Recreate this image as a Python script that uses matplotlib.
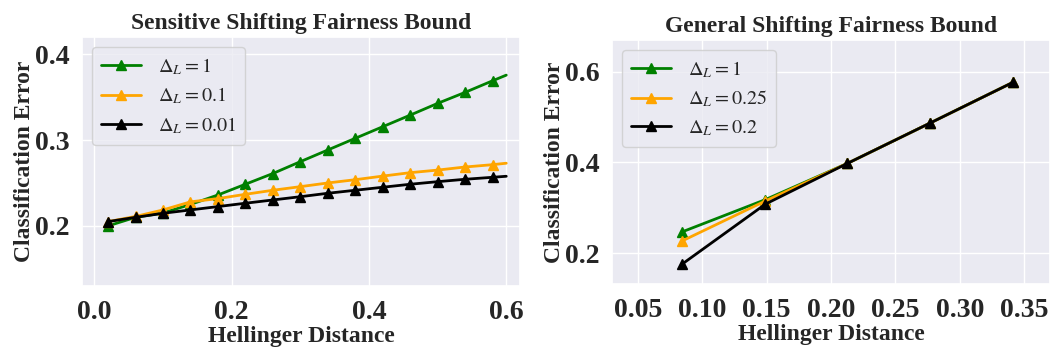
import matplotlib
matplotlib.use("Agg")
import matplotlib.pyplot as plt
import seaborn as sns

# ---------------- data ----------------
# Left panel: Sensitive shifting fairness bound
hd_left = [0.02, 0.06, 0.10, 0.14, 0.18, 0.22, 0.26, 0.30, 0.34, 0.38,
           0.42, 0.46, 0.50, 0.54, 0.58, 0.60]
err_left_1 = [0.200, 0.210, 0.215, 0.225, 0.236, 0.2485, 0.261, 0.2748,
              0.2884, 0.302, 0.3155, 0.329, 0.3427, 0.3555, 0.369, 0.3756]
err_left_01 = [0.205, 0.211, 0.2186, 0.228, 0.2318, 0.2368, 0.2415, 0.2457,
               0.250, 0.2538, 0.258, 0.262, 0.265, 0.2686, 0.2713, 0.273]
err_left_001 = [0.205, 0.210, 0.2147, 0.2186, 0.2225, 0.2264, 0.2302, 0.234,
                0.238, 0.2415, 0.245, 0.2485, 0.2515, 0.2543, 0.2566, 0.2578]
labels_left = [r"$\Delta_L = 1$", r"$\Delta_L = 0.1$", r"$\Delta_L = 0.01$"]

# Right panel: General shifting fairness bound
hd_right = [0.0845, 0.149, 0.2128, 0.277, 0.3415]
err_right_1 = [0.247, 0.318, 0.398, 0.487, 0.577]
err_right_025 = [0.227, 0.315, 0.398, 0.487, 0.577]
err_right_02 = [0.176, 0.308, 0.398, 0.487, 0.577]
labels_right = [r"$\Delta_L = 1$", r"$\Delta_L = 0.25$", r"$\Delta_L = 0.2$"]

colors = ["green", "orange", "black"]

# ---------------- style ----------------
sns.set_theme(style="darkgrid")
plt.rcParams["font.family"] = ["Liberation Serif", "DejaVu Serif"]
plt.rcParams["mathtext.fontset"] = "stix"

fig = plt.figure(figsize=(10.56, 3.52), dpi=100)
ax1 = fig.add_axes([82 / 1056, 1 - 286 / 352, (520 - 82) / 1056, (286 - 37) / 352])
ax2 = fig.add_axes([612 / 1056, 1 - 284 / 352, (1050 - 612) / 1056, (284 - 40) / 352])

n = len(hd_left)
for ys, c, lab in zip([err_left_1, err_left_01, err_left_001], colors, labels_left):
    ax1.plot(hd_left, ys, color=c, lw=2, marker="^", ms=7,
             markevery=list(range(n - 1)), label=lab)

for ys, c, lab in zip([err_right_1, err_right_025, err_right_02], colors, labels_right):
    ax2.plot(hd_right, ys, color=c, lw=2, marker="^", ms=7, label=lab)

ax1.set_xlim(-0.018, 0.62)
ax1.set_ylim(0.13, 0.42)
ax1.set_xticks([0.0, 0.2, 0.4, 0.6])
ax1.set_yticks([0.2, 0.3, 0.4])

ax2.set_xlim(0.03, 0.37)
ax2.set_ylim(0.132, 0.67)
ax2.set_xticks([0.05, 0.10, 0.15, 0.20, 0.25, 0.30, 0.35])
ax2.set_yticks([0.2, 0.4, 0.6])

titles = ["Sensitive Shifting Fairness Bound", "General Shifting Fairness Bound"]
for ax, t in zip([ax1, ax2], titles):
    ax.set_title(t, fontsize=17, fontweight="bold", pad=6)
    ax.set_xlabel("Hellinger Distance", fontsize=17, fontweight="bold", labelpad=1)
    ax.set_ylabel("Classification Error", fontsize=17, fontweight="bold", labelpad=0)
    for lbl in ax.get_xticklabels() + ax.get_yticklabels():
        lbl.set_fontweight("bold")
        lbl.set_fontsize(20)
    ax.tick_params(axis="x", pad=4)
    ax.tick_params(axis="y", pad=3)
    ax.legend(loc="upper left", fontsize=14.5, handlelength=2.0, labelspacing=0.45,
              borderpad=0.45, handletextpad=0.8)

fig.savefig("out.png", dpi=100)
